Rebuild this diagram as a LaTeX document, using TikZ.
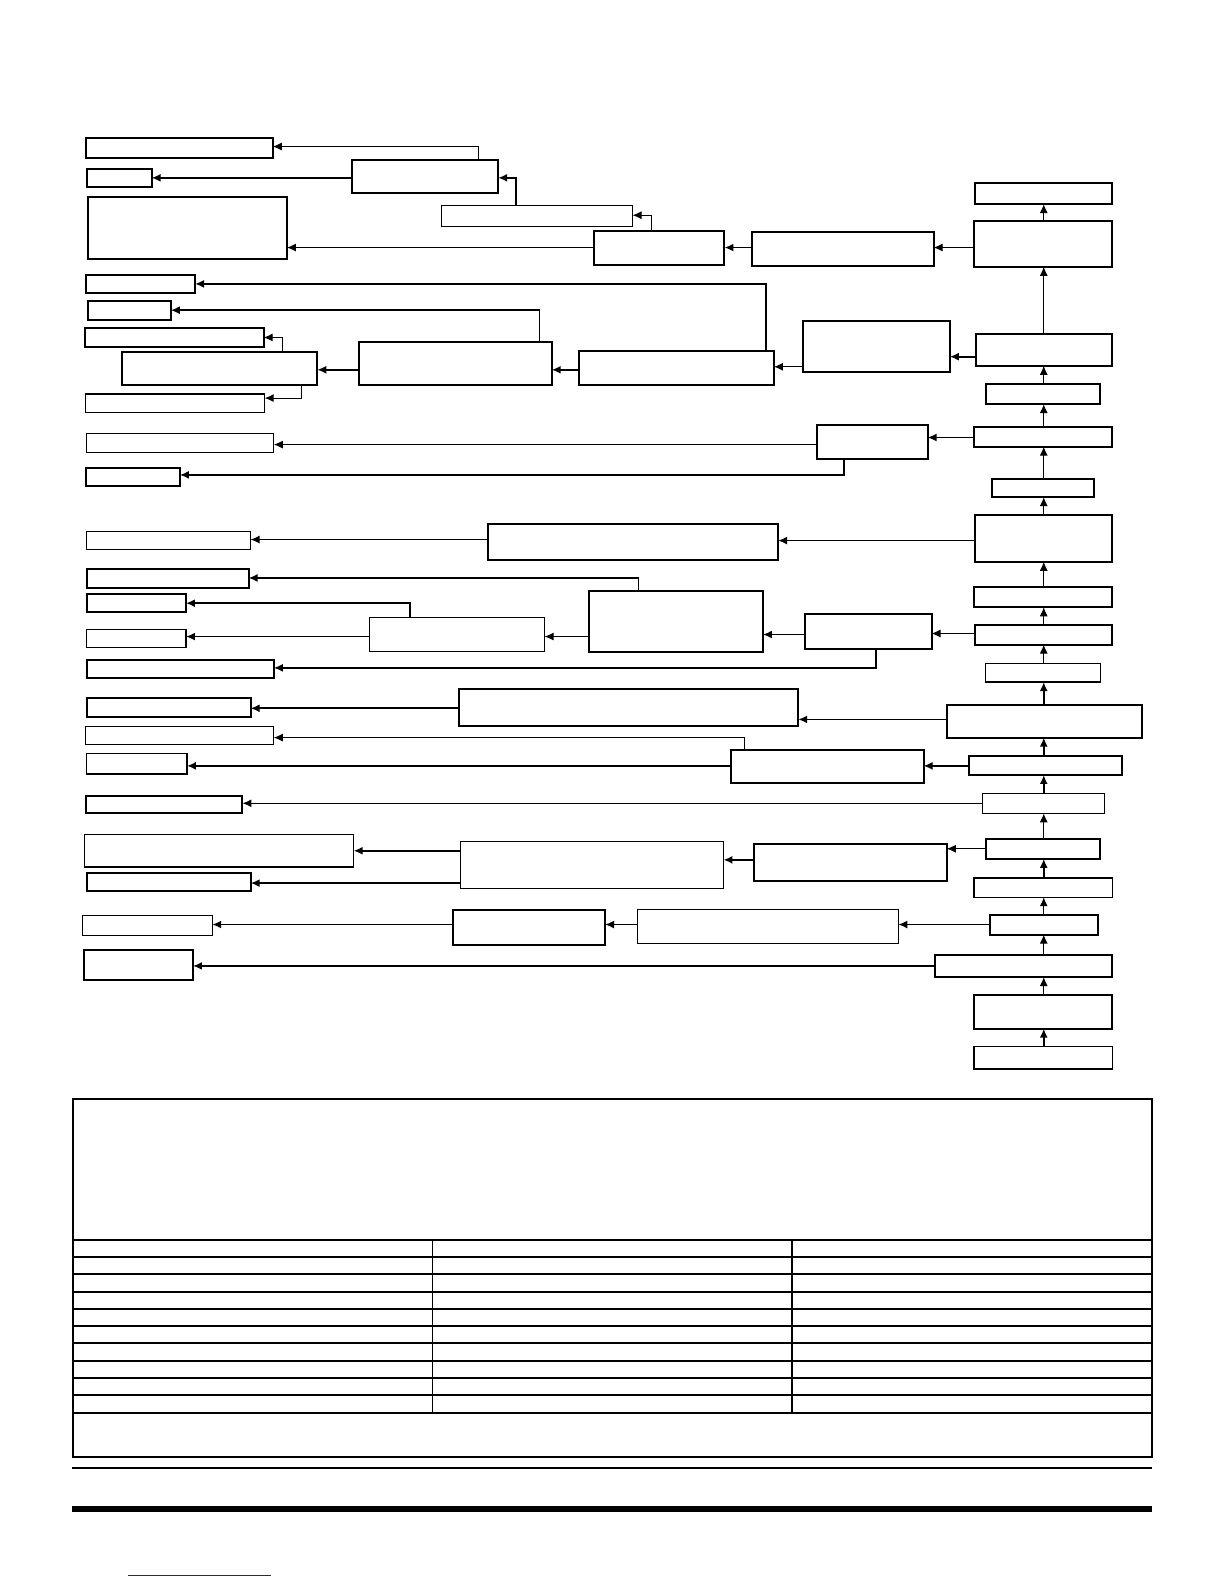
\documentclass[tikz,border=0pt]{standalone}
\usetikzlibrary{arrows.meta,fit}
\definecolor{linkblue}{RGB}{30,30,150}

\begin{document}
\begin{tikzpicture}[x=0.5052pt,y=-0.5052pt,
  box/.style={draw, line width=1pt, inner sep=0pt, fit={#1}},
  thinbox/.style={box={#1}, line width=0.6pt},
  link/.style={line width=0.9pt, -{Latex[length=4.5pt,width=4pt]}},
  thinlink/.style={link, line width=0.5pt},
  every node/.style={outer sep=0pt}]
\useasboundingbox (0,0) rectangle (1211.4,1567.7);
\coordinate (spine) at (1033,0);

\node[box={(965,181) (1101,202)}] (r1) {};
\node[box={(964,219) (1101,264)}] (r2) {};
\node[box={(966,331) (1101,362)}] (r3) {};
\node[box={(976,380) (1089,400)}] (r4) {};
\node[box={(964,423) (1101,442)}] (r5) {};
\node[box={(982,474) (1083,492)}] (r6) {};
\node[box={(965,510) (1101,556)}] (r7) {};
\node[box={(964,581) (1101,601)}] (r8) {};
\node[box={(965,619) (1101,638)}] (r9) {};
\node[thinbox={(975,657) (1089,675)}] (r10) {};
\node[box={(937,698) (1130,730)}] (r11) {};
\node[box={(959,748) (1110,767)}] (r12) {};
\node[thinbox={(972,785) (1093,805)}] (r13) {};
\node[box={(976,830) (1089,850)}] (r14) {};
\node[thinbox={(964,869) (1101,888)}] (r15) {};
\node[box={(980,906) (1087,925)}] (r16) {};
\node[box={(925,945) (1101,967)}] (r17) {};
\node[box={(964,985) (1101,1018)}] (r18) {};
\node[thinbox={(964,1036) (1101,1058)}] (r19) {};

\node[box={(744,230) (924,263)}] (a1) {};
\node[box={(588,229) (717,262)}] (a2) {};
\node[thinbox={(437,203) (626,224)}] (a3) {};
\node[box={(348,158) (493,191)}] (a4) {};
\node[box={(85,137) (270,156)}] (l1) {};
\node[box={(86,167) (150,185)}] (l2) {};
\node[box={(87,195) (284,256)}] (l3) {};

\node[box={(795,318) (940,368)}] (b1) {};
\node[box={(573,347) (766,381)}] (b2) {};
\node[box={(355,338) (546,381)}] (b3) {};
\node[box={(121,348) (314,381)}] (b4) {};
\node[box={(85,272) (193,290)}] (l4) {};
\node[box={(87,298) (169,317)}] (l5) {};
\node[box={(84,325) (261,343)}] (l6) {};
\node[thinbox={(85,390) (262,408)}] (l7) {};

\node[box={(809,421) (918,454)}] (c1) {};
\node[thinbox={(86,429) (271,448)}] (l8) {};
\node[box={(85,463) (178,481)}] (l9) {};

\node[box={(483,519) (770,554)}] (d1) {};
\node[thinbox={(86,526) (248,544)}] (l10) {};

\node[box={(797,608) (922,642)}] (e1) {};
\node[box={(583,585) (755,645)}] (e2) {};
\node[thinbox={(366,611) (539,645)}] (e3) {};
\node[box={(86,563) (246,582)}] (l11) {};
\node[box={(86,588) (184,606)}] (l12) {};
\node[thinbox={(86,623) (184,641)}] (l13) {};
\node[box={(86,653) (271,671)}] (l14) {};

\node[box={(454,682) (790,719)}] (f1) {};
\node[box={(723,742) (914,775)}] (f2) {};
\node[box={(86,691) (248,710)}] (l15) {};
\node[thinbox={(85,719) (271,737)}] (l16) {};
\node[thinbox={(86,746) (185,766)}] (l17) {};
\node[box={(85,788) (240,805)}] (l18) {};

\node[box={(746,835) (937,872)}] (g1) {};
\node[thinbox={(456,833) (716,879)}] (g2) {};
\node[thinbox={(84,826) (350,858)}] (l19) {};
\node[box={(86,864) (248,882)}] (l20) {};

\node[thinbox={(631,900) (889,934)}] (h1) {};
\node[box={(448,901) (599,935)}] (h2) {};
\node[thinbox={(82,906) (210,926)}] (l21) {};
\node[box={(83,940) (191,970)}] (l22) {};

\draw[link] (spine |- r19.north) -- (spine |- r18.south);
\draw[thinlink] (spine |- r18.north) -- (spine |- r17.south);
\draw[thinlink] (spine |- r17.north) -- (spine |- r16.south);
\draw[thinlink] (spine |- r16.north) -- (spine |- r15.south);
\draw[link] (spine |- r15.north) -- (spine |- r14.south);
\draw[thinlink] (spine |- r14.north) -- (spine |- r13.south);
\draw[link] (spine |- r13.north) -- (spine |- r12.south);
\draw[link] (spine |- r12.north) -- (spine |- r11.south);
\draw[link] (spine |- r11.north) -- (spine |- r10.south);
\draw[thinlink] (spine |- r10.north) -- (spine |- r9.south);
\draw[thinlink] (spine |- r9.north) -- (spine |- r8.south);
\draw[thinlink] (spine |- r8.north) -- (spine |- r7.south);
\draw[thinlink] (spine |- r7.north) -- (spine |- r6.south);
\draw[thinlink] (spine |- r6.north) -- (spine |- r5.south);
\draw[thinlink] (spine |- r5.north) -- (spine |- r4.south);
\draw[thinlink] (spine |- r4.north) -- (spine |- r3.south);
\draw[thinlink] (spine |- r3.north) -- (spine |- r2.south);
\draw[thinlink] (spine |- r2.north) -- (spine |- r1.south);

\draw[thinlink] (r2.west |- 0,245) -- (a1.east |- 0,245);
\draw[link] (a1.west |- 0,245) -- (a2.east |- 0,245);
\draw[thinlink] (a2.west |- 0,245) -- (l3.east |- 0,245);
\draw[thinlink] (645,0 |- a2.north) |- (a3.east |- 0,213);
\draw[link] (511,0 |- a3.north) |- (a4.east |- 0,176);
\draw[thinlink] (474,0 |- a4.north) |- (l1.east |- 0,145);
\draw[link] (a4.west |- 0,176) -- (l2.east |- 0,176);

\draw[link] (r3.west |- 0,353) -- (b1.east |- 0,353);
\draw[thinlink] (b1.west |- 0,363) -- (b2.east |- 0,363);
\draw[link] (b2.west |- 0,366) -- (b3.east |- 0,366);
\draw[link] (b3.west |- 0,366) -- (b4.east |- 0,366);
\draw[link] (758,0 |- b2.north) |- (l4.east |- 0,281);
\draw[link] (534,0 |- b3.north) |- (l5.east |- 0,307);
\draw[thinlink] (280,0 |- b4.north) |- (l6.east |- 0,334);
\draw[thinlink] (298,0 |- b4.south) |- (l7.east |- 0,394);

\draw[link] (r5.west |- 0,433) -- (c1.east |- 0,433);
\draw[thinlink] (c1.west |- 0,440) -- (l8.east |- 0,440);
\draw[link] (835,0 |- c1.south) |- (l9.east |- 0,470);

\draw[link] (r7.west |- 0,535) -- (d1.east |- 0,535);
\draw[thinlink] (d1.west |- 0,534) -- (l10.east |- 0,534);

\draw[thinlink] (r9.west |- 0,627) -- (e1.east |- 0,627);
\draw[link] (e1.west |- 0,628) -- (e2.east |- 0,628);
\draw[thinlink] (e2.west |- 0,630) -- (e3.east |- 0,630);
\draw[link] (632,0 |- e2.north) |- (l11.east |- 0,572);
\draw[link] (406,0 |- e3.north) |- (l12.east |- 0,597);
\draw[link] (e3.west |- 0,630) -- (l13.east |- 0,630);
\draw[link] (867,0 |- e1.south) |- (l14.east |- 0,661);

\draw[link] (r11.west |- 0,712) -- (f1.east |- 0,712);
\draw[link] (f1.west |- 0,701) -- (l15.east |- 0,701);
\draw[link] (r12.west |- 0,758) -- (f2.east |- 0,758);
\draw[thinlink] (737,0 |- f2.north) |- (l16.east |- 0,730);
\draw[link] (f2.west |- 0,758) -- (l17.east |- 0,758);
\draw[thinlink] (r13.west |- 0,795) -- (l18.east |- 0,795);

\draw[thinlink] (r14.west |- 0,840) -- (g1.east |- 0,840);
\draw[link] (g1.west |- 0,851) -- (g2.east |- 0,851);
\draw[link] (g2.west |- 0,842) -- (l19.east |- 0,842);
\draw[link] (g2.west |- 0,874) -- (l20.east |- 0,874);

\draw[link] (r16.west |- 0,915) -- (h1.east |- 0,915);
\draw[thinlink] (h1.west |- 0,915) -- (h2.east |- 0,915);
\draw[link] (h2.west |- 0,915) -- (l21.east |- 0,915);
\draw[link] (r17.west |- 0,956) -- (l22.east |- 0,956);

\draw[line width=1.1pt] (72,1088) rectangle (1140,1442);
\foreach \k in {0,...,10}
  \draw[line width=1pt] (72,{1227+17.1*\k}) -- (1140,{1227+17.1*\k});
\draw[line width=0.8pt] (428,1227) -- (428,1398);
\draw[line width=0.8pt] (784,1227) -- (784,1398);

\draw[line width=1.3pt] (71,1453) -- (1140,1453);
\draw[line width=3pt] (71,1493) -- (1140,1493);
\draw[linkblue, line width=0.7pt] (127,1559) -- (268,1559);
\end{tikzpicture}
\end{document}
